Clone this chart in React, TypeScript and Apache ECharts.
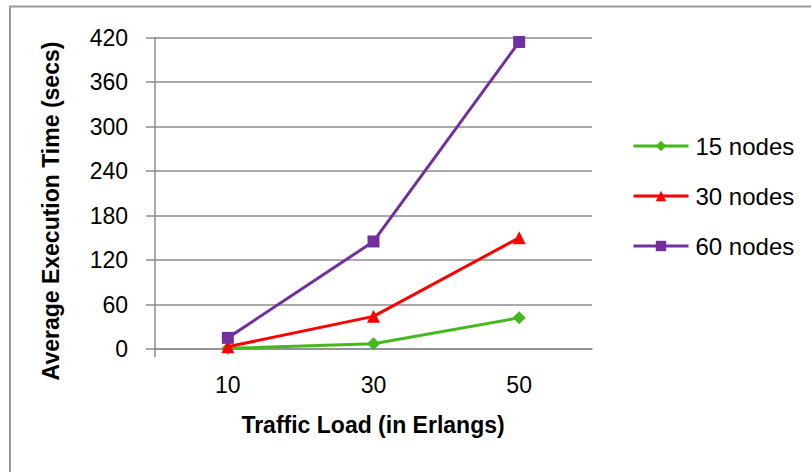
import React, { useEffect, useRef } from "react";
import * as echarts from "echarts";

// Traffic load categories (Erlangs)
const categories = ["10", "30", "50"];

// Average execution time (secs) per network size
const nodes15 = [1, 7, 42];
const nodes30 = [3, 44, 150];
const nodes60 = [15, 145, 414];

const seriesNames = ["15 nodes", "30 nodes", "60 nodes"];

const FONT = "'Liberation Sans', Arial, sans-serif";
const GRID_GRAY = "#8c8c8c";

export default function App() {
  const ref = useRef<HTMLDivElement>(null);

  useEffect(() => {
    if (!ref.current) return;
    const chart = echarts.init(ref.current, null, { renderer: "svg" });

    const option: echarts.EChartsOption = {
      animation: false,
      backgroundColor: "#ffffff",
      textStyle: { fontFamily: FONT },
      grid: { left: 155, right: 219, top: 37.5, bottom: 123, containLabel: false },
      xAxis: {
        type: "category",
        data: categories,
        boundaryGap: true,
        axisLine: { show: true, lineStyle: { color: GRID_GRAY, width: 1.5 } },
        axisTick: { show: false },
        axisLabel: { color: "#000", fontSize: 23, margin: 24, fontFamily: FONT },
        splitLine: { show: false },
      },
      yAxis: {
        type: "value",
        min: 0,
        max: 420,
        interval: 60,
        axisLine: { show: true, lineStyle: { color: GRID_GRAY, width: 1.5 } },
        axisTick: { show: true, inside: false, length: 9, lineStyle: { color: GRID_GRAY, width: 1.5 } },
        axisLabel: { color: "#000", fontSize: 23, margin: 27, fontFamily: FONT },
        splitLine: { show: true, lineStyle: { color: GRID_GRAY, width: 1.5 } },
      },
      legend: {
        orient: "vertical",
        left: 632,
        top: 134,
        padding: 0,
        itemWidth: 55,
        itemHeight: 13,
        itemGap: 26,
        data: seriesNames,
        lineStyle: { width: 3 },
        textStyle: { color: "#000", fontSize: 24, lineHeight: 24, fontFamily: FONT, padding: [0, 0, 0, 2] },
      },
      series: [
        {
          name: seriesNames[0],
          type: "line",
          data: nodes15,
          symbol: "diamond",
          symbolSize: [13, 13],
          itemStyle: { color: "#45B81C" },
          lineStyle: { color: "#45B81C", width: 3 },
          z: 3,
        },
        {
          name: seriesNames[1],
          type: "line",
          data: nodes30,
          symbol: "triangle",
          symbolSize: 13,
          itemStyle: { color: "#FF0000" },
          lineStyle: { color: "#FF0000", width: 3 },
          z: 4,
        },
        {
          name: seriesNames[2],
          type: "line",
          data: nodes60,
          symbol: "rect",
          symbolSize: 12,
          itemStyle: { color: "#7030A0" },
          lineStyle: { color: "#7030A0", width: 3 },
          z: 5,
        },
      ],
      graphic: [
        {
          type: "rect",
          shape: { x: 10, y: 6.5, width: 900, height: 600 },
          style: { fill: "none", stroke: "#9a9a9a", lineWidth: 2 },
          silent: true,
        },
        {
          type: "line",
          shape: { x1: 155, y1: 349, x2: 155, y2: 357 },
          style: { stroke: GRID_GRAY, lineWidth: 1.5 },
          silent: true,
        },
        {
          type: "text",
          x: 51,
          y: 211,
          rotation: Math.PI / 2,
          style: {
            text: "Average Execution Time (secs)",
            fontSize: 23,
            fontWeight: "bold",
            fontFamily: FONT,
            fill: "#000",
            align: "center",
            verticalAlign: "middle",
          },
        },
        {
          type: "text",
          x: 373,
          y: 425,
          style: {
            text: "Traffic Load (in Erlangs)",
            fontSize: 23,
            fontWeight: "bold",
            fontFamily: FONT,
            fill: "#000",
            align: "center",
            verticalAlign: "middle",
          },
        },
      ],
    };

    chart.setOption(option);
    return () => chart.dispose();
  }, []);

  return (
    <div
      ref={ref}
      style={{ position: "absolute", left: 0, top: 0, width: 811, height: 472 }}
    />
  );
}
